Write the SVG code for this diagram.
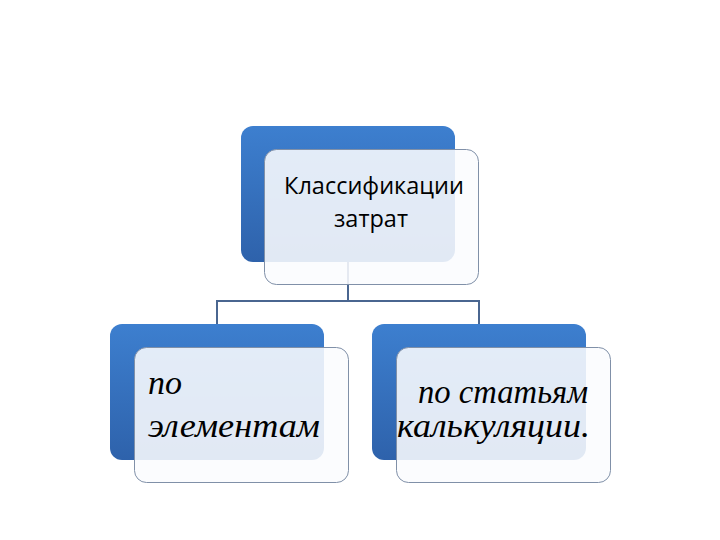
<svg xmlns="http://www.w3.org/2000/svg" width="720" height="540" viewBox="0 0 720 540">
<defs>
<linearGradient id="bg" x1="0" y1="0" x2="0" y2="1">
<stop offset="0" stop-color="#3d7fcf"/>
<stop offset="1" stop-color="#2e62ab"/>
</linearGradient>
<style>
.back{fill:url(#bg);}
.front{fill:#fafcfe;fill-opacity:0.88;stroke:#8090a8;stroke-width:1;}
.conn{fill:none;stroke:#4a6690;stroke-width:2;}
.t1{font-family:"Open Sans","Noto Sans",sans-serif;font-size:23.5px;fill:#000;text-anchor:middle;}
.t2{font-family:"Liberation Serif",serif;font-style:italic;font-size:34px;fill:#000;}
</style>
</defs>
<rect width="720" height="540" fill="#fff"/>
<g id="connectors">
<path class="conn" d="M348 262 V301 M217 301 H479 M217 300 V324 M479 300 V347"/>
</g>
<g id="node-top">
<rect class="back" x="241" y="126" width="214" height="136" rx="12"/>
<rect class="front" x="264.500" y="149.500" width="214" height="135" rx="12"/>
<text class="t1" x="374" y="194">Классификации</text>
<text class="t1" x="371" y="227">затрат</text>
</g>
<g id="node-left">
<rect class="back" x="110" y="324" width="214" height="136" rx="12"/>
<rect class="front" x="134.500" y="347.500" width="214" height="135" rx="12"/>
<text class="t2" x="148" y="394">по</text>
<text class="t2" x="148" y="437" textLength="172" lengthAdjust="spacingAndGlyphs">элементам</text>
</g>
<g id="node-right">
<rect class="back" x="372" y="324" width="214" height="136" rx="12"/>
<rect class="front" x="396.500" y="347.500" width="214" height="135" rx="12"/>
<text class="t2" x="418" y="403" font-size="31" textLength="170" lengthAdjust="spacingAndGlyphs">по статьям</text>
<text class="t2" x="397" y="437" font-size="31" textLength="193" lengthAdjust="spacingAndGlyphs">калькуляции.</text>
</g>
</svg>
